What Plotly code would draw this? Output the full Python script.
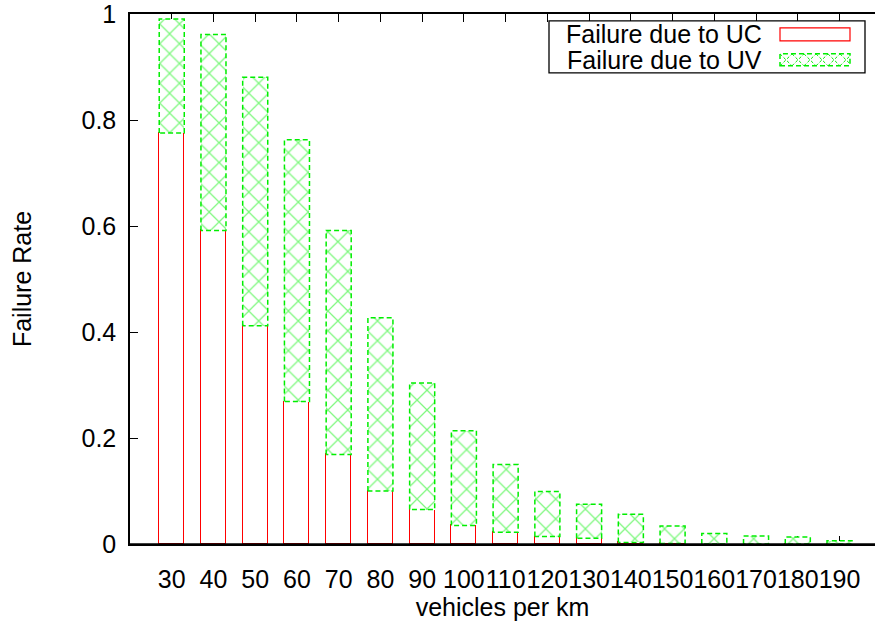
import plotly.graph_objects as go

# ---- data ----
categories = [30, 40, 50, 60, 70, 80, 90, 100, 110, 120, 130, 140, 150, 160, 170, 180, 190]
failure_uc = [0.776, 0.592, 0.412, 0.269, 0.169, 0.100, 0.065, 0.035, 0.022, 0.014,
              0.011, 0.003, 0.001, 0.000, 0.000, 0.000, 0.000]
failure_uv = [0.215, 0.370, 0.469, 0.494, 0.423, 0.327, 0.239, 0.179, 0.128, 0.085,
              0.064, 0.053, 0.033, 0.020, 0.015, 0.013, 0.006]
y_ticks = [0, 0.2, 0.4, 0.6, 0.8, 1]
y_tick_labels = ["0", "0.2", "0.4", "0.6", "0.8", "1"]

series_names = ["Failure due to UC", "Failure due to UV"]

# ---- style ----
FONT = "Liberation Sans, Arial, Helvetica, sans-serif"
FS = 25
BAR_W = 0.6
RED = "#ff0000"
GREEN = "#00ee00"

xpos = list(range(len(categories)))
tick_text = [str(c) for c in categories]

fig = go.Figure()

fig.add_trace(go.Bar(
    x=xpos, y=failure_uc, width=BAR_W, name=series_names[0],
    marker=dict(color="white", line=dict(color=RED, width=1.2)),
    showlegend=False,
))
fig.add_trace(go.Bar(
    x=xpos, y=failure_uv, width=BAR_W, name=series_names[1],
    marker=dict(color="white",
                line=dict(color="rgba(0,0,0,0)", width=0),
                pattern=dict(shape="x", fgcolor="#00f000", bgcolor="white",
                             size=14, solidity=0.17)),
    showlegend=False,
))

# dashed outline of UV bars, built from the data
ox, oy = [], []
for i, (u, v) in enumerate(zip(failure_uc, failure_uv)):
    x0, x1 = i - BAR_W / 2, i + BAR_W / 2
    top = u + v
    ox += [x0, x0, x1, x1, x0, None]
    oy += [u, top, top, u, u, None]
fig.add_trace(go.Scatter(x=ox, y=oy, mode="lines",
                         line=dict(color=GREEN, width=1.5, dash="5px,3px"),
                         hoverinfo="skip", showlegend=False))

# ---- layout geometry (pixels) ----
W, H = 875, 625
ML, MR, MT, MB = 130, 0, 12, 81
PW, PH = W - ML - MR, H - MT - MB
UNITS = 17.85  # category slots visible across the plot width


def px(xp):
    return (xp - ML) / PW


def py(yp):
    return (H - MB - yp) / PH


shapes = []
annotations = []

# baseline (bottom border) above bars
shapes.append(dict(type="line", xref="paper", yref="paper", x0=0, x1=1, y0=0, y1=0,
                   line=dict(color="black", width=1.5), layer="above"))

# legend box
shapes.append(dict(type="rect", xref="paper", yref="paper",
                   x0=px(549), x1=px(865), y0=py(71), y1=py(19),
                   line=dict(color="black", width=1.3), fillcolor="white", layer="above"))
# UC swatch
shapes.append(dict(type="rect", xref="paper", yref="paper",
                   x0=px(780), x1=px(850), y0=py(39), y1=py(26),
                   line=dict(color=RED, width=1.2), fillcolor="white", layer="above"))
# UV swatch crosshatch
sx0, sx1, sy0, sy1 = 780, 850, 52, 64
path = ""
step = 12
k = sx0 - (sy1 - sy0)
while k < sx1:
    a0x, a0y = k, sy0
    a1x, a1y = k + (sy1 - sy0), sy1
    if a0x < sx0:
        a0y += sx0 - a0x
        a0x = sx0
    if a1x > sx1:
        a1y -= a1x - sx1
        a1x = sx1
    if a1x > a0x:
        path += f"M{px(a0x)},{py(a0y)} L{px(a1x)},{py(a1y)} "
    b0x, b0y = k, sy1
    b1x, b1y = k + (sy1 - sy0), sy0
    if b0x < sx0:
        b0y -= sx0 - b0x
        b0x = sx0
    if b1x > sx1:
        b1y += b1x - sx1
        b1x = sx1
    if b1x > b0x:
        path += f"M{px(b0x)},{py(b0y)} L{px(b1x)},{py(b1y)} "
    k += step
shapes.append(dict(type="path", xref="paper", yref="paper", path=path,
                   line=dict(color=GREEN, width=1, dash="3px,2px"), layer="above"))
shapes.append(dict(type="rect", xref="paper", yref="paper",
                   x0=px(sx0), x1=px(sx1), y0=py(sy1), y1=py(sy0),
                   line=dict(color=GREEN, width=1.5, dash="5px,3px"), layer="above"))

for name, yc in zip(series_names, [32, 58]):
    annotations.append(dict(text=name, xref="paper", yref="paper", x=px(764), y=py(yc),
                            xanchor="right", yanchor="middle", showarrow=False,
                            font=dict(family=FONT, size=FS, color="black")))

fig.update_layout(
    width=W, height=H,
    margin=dict(l=ML, r=MR, t=MT, b=MB, pad=0),
    paper_bgcolor="white", plot_bgcolor="white",
    barmode="stack", bargap=0,
    font=dict(family=FONT, size=FS, color="black"),
    showlegend=False,
    shapes=shapes, annotations=annotations,
    xaxis=dict(range=[-1, UNITS - 1], tickmode="array",
               tickvals=xpos, ticktext=tick_text, tickangle=0,
               ticks="inside", ticklen=8, tickwidth=1.3, tickcolor="black",
               showline=True, linecolor="black", linewidth=1.5, mirror="allticks",
               showgrid=False, zeroline=False, layer="below traces",
               ticklabelstandoff=12, ticklabeloverflow="allow",
               tickfont=dict(family=FONT, size=FS, color="black"),
               title=dict(text="vehicles per km", standoff=5,
                          font=dict(family=FONT, size=FS, color="black"))),
    yaxis=dict(range=[0, 1.0005], tickmode="array", tickvals=y_ticks, ticktext=y_tick_labels,
               ticks="inside", ticklen=8, tickwidth=1.3, tickcolor="black",
               showline=True, linecolor="black", linewidth=1.5, mirror=False,
               showgrid=False, zeroline=False,
               ticklabelstandoff=7, ticklabeloverflow="allow",
               tickfont=dict(family=FONT, size=FS, color="black"),
               title=dict(text="Failure Rate", standoff=43,
                          font=dict(family=FONT, size=FS, color="black"))),
)

fig.write_html("out.html", config={"displayModeBar": False},
               post_script="document.body.style.margin='0px';")
